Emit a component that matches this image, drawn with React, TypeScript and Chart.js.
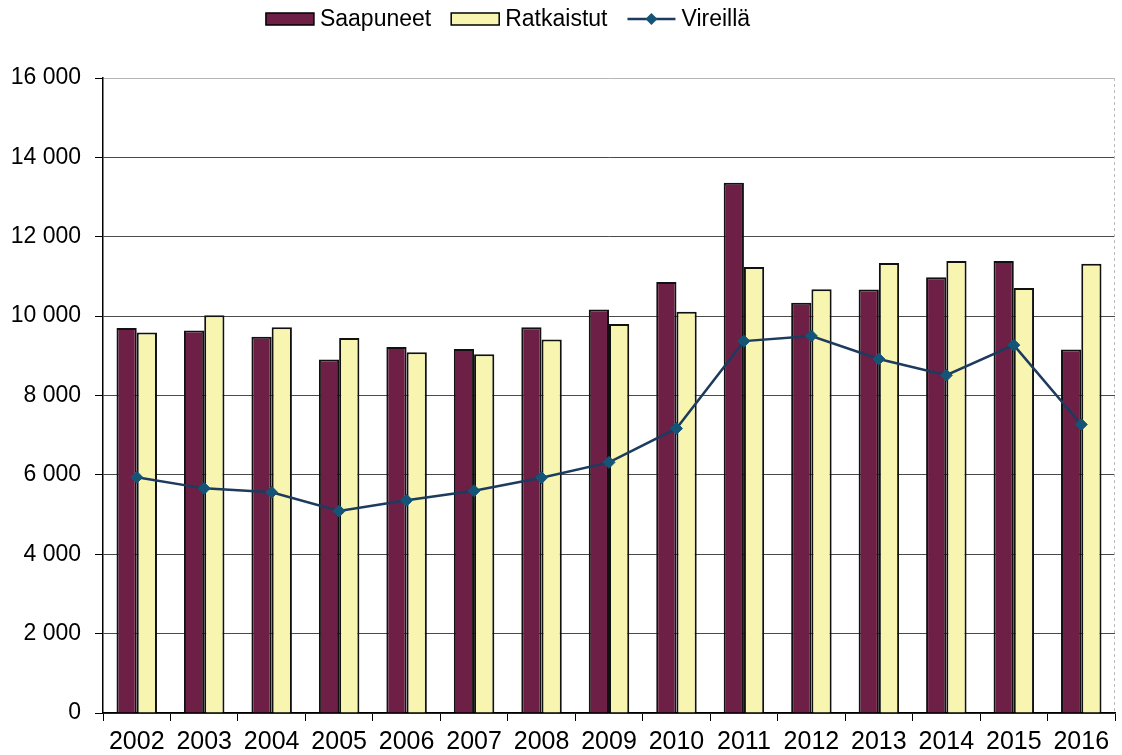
import React, { useEffect, useRef } from "react";
import { Chart, registerables } from "chart.js";

Chart.register(...registerables);

const years = ["2002", "2003", "2004", "2005", "2006", "2007", "2008", "2009", "2010", "2011", "2012", "2013", "2014", "2015", "2016"];
const saapuneet = [9700, 9640, 9480, 8910, 9220, 9170, 9720, 10170, 10860, 13360, 10340, 10670, 10980, 11390, 9160];
const ratkaistut = [9590, 10020, 9720, 9450, 9090, 9040, 9410, 9800, 10110, 11240, 10680, 11340, 11390, 10710, 11320];
const vireilla = [5940, 5660, 5560, 5090, 5360, 5600, 5930, 6315, 7170, 9370, 9500, 8920, 8510, 9270, 7270];
const yTicks = [0, 2000, 4000, 6000, 8000, 10000, 12000, 14000, 16000];

const MAROON = "#6e1f45";
const YELLOW = "#f8f5b0";
const LINE = "#1c3b5e";
const MARKER = "#145577";
const FONT_FAMILY = '"Liberation Sans", Arial, sans-serif';
const FONT_SIZE = 23;
const X_FONT_SIZE = 25;

const fmt = (v: number) => String(v).replace(/\B(?=(\d{3})+(?!\d))/g, " ");

const legendPlugin = {
  id: "customLegend",
  afterDraw(chart: any) {
    const ctx = chart.ctx as CanvasRenderingContext2D;
    ctx.save();
    ctx.font = `${FONT_SIZE}px ${FONT_FAMILY}`;
    ctx.textBaseline = "middle";
    const items = [
      { label: "Saapuneet", kind: "bar", color: MAROON },
      { label: "Ratkaistut", kind: "bar", color: YELLOW },
      { label: "Vireillä", kind: "line", color: LINE },
    ];
    const boxW = 48;
    const gapText = 6;
    const gapItem = 20;
    const widths = items.map((it) => boxW + gapText + ctx.measureText(it.label).width);
    const total = widths.reduce((a, b) => a + b, 0) + gapItem * (items.length - 1);
    let x = 508 - total / 2;
    const cy = 19;
    items.forEach((it, i) => {
      if (it.kind === "bar") {
        ctx.fillStyle = it.color;
        ctx.fillRect(x, cy - 6, boxW, 12);
        ctx.strokeStyle = "#000";
        ctx.lineWidth = 1.5;
        ctx.strokeRect(x, cy - 6, boxW, 12);
      } else {
        ctx.strokeStyle = it.color;
        ctx.lineWidth = 2.5;
        ctx.beginPath();
        ctx.moveTo(x, cy);
        ctx.lineTo(x + boxW, cy);
        ctx.stroke();
        const mx = x + boxW / 2;
        ctx.fillStyle = MARKER;
        ctx.beginPath();
        ctx.moveTo(mx, cy - 6);
        ctx.lineTo(mx + 6, cy);
        ctx.lineTo(mx, cy + 6);
        ctx.lineTo(mx - 6, cy);
        ctx.closePath();
        ctx.fill();
      }
      ctx.fillStyle = "#000";
      ctx.fillText(it.label, x + boxW + gapText, cy + 1);
      x += widths[i] + gapItem;
    });
    // faint right border of plot area
    const a = chart.chartArea;
    ctx.strokeStyle = "#bbbbbb";
    ctx.lineWidth = 1;
    ctx.setLineDash([3, 3]);
    ctx.beginPath();
    ctx.moveTo(a.right - 0.5, a.top);
    ctx.lineTo(a.right - 0.5, a.bottom);
    ctx.stroke();
    ctx.restore();
  },
};

export default function App() {
  const ref = useRef<HTMLCanvasElement | null>(null);

  useEffect(() => {
    if (!ref.current) return;
    const chart = new Chart(ref.current, {
      type: "bar",
      data: {
        labels: years,
        datasets: [
          {
            type: "line" as const,
            label: "Vireillä",
            data: vireilla,
            borderColor: LINE,
            borderWidth: 2.5,
            pointStyle: "rectRot",
            pointRadius: 6,
            pointBackgroundColor: MARKER,
            pointBorderColor: MARKER,
            pointBorderWidth: 1,
            tension: 0,
            order: 0,
          },
          {
            label: "Saapuneet",
            data: saapuneet,
            backgroundColor: MAROON,
            borderColor: "#111",
            borderWidth: 2,
            categoryPercentage: 0.6,
            barPercentage: 1.0,
            order: 1,
          },
          {
            label: "Ratkaistut",
            data: ratkaistut,
            backgroundColor: YELLOW,
            borderColor: "#111",
            borderWidth: 2,
            categoryPercentage: 0.6,
            barPercentage: 1.0,
            order: 1,
          },
        ],
      },
      options: {
        animation: false,
        responsive: false,
        maintainAspectRatio: false,
        layout: { padding: { top: 78, right: 4, left: 0, bottom: 0 } },
        plugins: {
          legend: { display: false },
          tooltip: { enabled: false },
        },
        scales: {
          x: {
            offset: true,
            grid: {
              offset: true,
              drawOnChartArea: false,
              drawTicks: true,
              tickLength: 8,
              color: "#000",
            },
            border: { color: "#000", width: 1.5 },
            ticks: {
              color: "#000",
              font: { family: FONT_FAMILY, size: X_FONT_SIZE },
              padding: 6,
              maxRotation: 0,
              autoSkip: false,
            },
            afterFit: (s: any) => {
              s.height = 42;
            },
          },
          y: {
            min: 0,
            max: 16000,
            afterBuildTicks: (s: any) => {
              s.ticks = yTicks.map((v) => ({ value: v }));
            },
            grid: {
              color: (c: any) => (c.tick && c.tick.value === 16000 ? "#b5b5b5" : "#4a4a4a"),
              lineWidth: 1,
              tickLength: 8,
              tickColor: "#000",
            },
            border: { color: "#000", width: 1.5 },
            ticks: {
              color: "#000",
              font: { family: FONT_FAMILY, size: FONT_SIZE },
              padding: 14,
              callback: (v: any) => fmt(Number(v)),
            },
            afterFit: (s: any) => {
              s.width = 103;
            },
          },
        },
      },
      plugins: [legendPlugin],
    });
    return () => chart.destroy();
  }, []);

  return (
    <div style={{ position: "fixed", left: 0, top: 0, width: 1122, height: 755, background: "#fff" }}>
      <canvas ref={ref} width={1122} height={755} />
    </div>
  );
}
